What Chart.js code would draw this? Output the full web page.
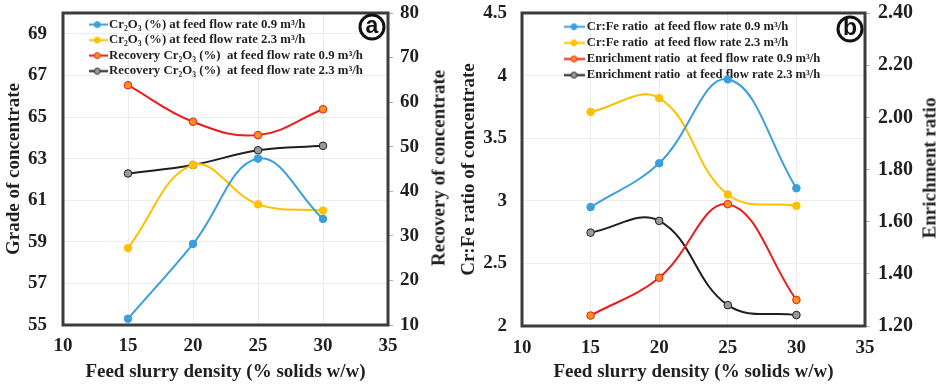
<!DOCTYPE html>
<html>
<head>
<meta charset="utf-8">
<script src="https://cdn.jsdelivr.net/npm/chart.js@4.4.1/dist/chart.umd.min.js"></script>
<style>
html,body{margin:0;padding:0;background:#fff;}
#wrap{position:relative;width:944px;height:386px;overflow:hidden;background:#fff;}
canvas{position:absolute;top:0;}
#c1{left:0;}
#c2{left:455px;}
.rt{position:absolute;font:bold 19px "Liberation Serif","Times New Roman",serif;color:#1f1f1f;white-space:nowrap;transform:translate(-50%,-50%) rotate(-90deg);line-height:1;}
.tag{position:absolute;box-sizing:border-box;width:27px;height:27px;border:3px solid #111;border-radius:50%;font:bold 23px "Liberation Sans",Arial,sans-serif;color:#111;display:flex;align-items:center;justify-content:center;line-height:1;transform:translate(-50%,-50%);}
.tag span{position:relative;top:-2px;}
</style>
</head>
<body>
<div id="wrap">
<canvas id="c1" width="455" height="386"></canvas>
<canvas id="c2" width="489" height="386"></canvas>
<div class="rt" style="left:438px;top:168px;">Recovery of concentrate</div>
<div class="rt" style="left:929px;top:168px;">Enrichment ratio</div>
<div class="tag" style="left:372px;top:27px;"><span>a</span></div>
<div class="tag" style="left:850px;top:29px;"><span>b</span></div>
</div>
<script>
// ---------- data ----------
const densities = [15, 20, 25, 30];

const cr2o3Flow09 = [55.3, 58.9, 63.0, 60.1];
const cr2o3Flow23 = [58.7, 62.7, 60.8, 60.5];
const recoveryFlow09 = [63.8, 55.6, 52.6, 58.4];
const recoveryFlow23 = [44.0, 45.9, 49.2, 50.2];

const crFeFlow09 = [2.95, 3.30, 3.97, 3.10];
const crFeFlow23 = [3.71, 3.82, 3.05, 2.96];
const enrichFlow09 = [1.24, 1.385, 1.667, 1.30];
const enrichFlow23 = [1.558, 1.603, 1.28, 1.242];

const xTicks = [10, 15, 20, 25, 30, 35];
const gradeTicks = [55, 57, 59, 61, 63, 65, 67, 69];
const recoveryTicks = [10, 20, 30, 40, 50, 60, 70, 80];
const crFeTicks = [2, 2.5, 3, 3.5, 4, 4.5];
const enrichTicks = [1.2, 1.4, 1.6, 1.8, 2.0, 2.2, 2.4];

const labelsA = [
  "Cr\u2082O\u2083 (%) at feed flow rate 0.9 m\u00b3/h",
  "Cr\u2082O\u2083 (%) at feed flow rate 2.3 m\u00b3/h",
  "Recovery Cr\u2082O\u2083 (%)  at feed flow rate 0.9 m\u00b3/h",
  "Recovery Cr\u2082O\u2083 (%)  at feed flow rate 2.3 m\u00b3/h"
];
const labelsB = [
  "Cr:Fe ratio  at feed flow rate 0.9 m\u00b3/h",
  "Cr:Fe ratio  at feed flow rate 2.3 m\u00b3/h",
  "Enrichment ratio  at feed flow rate 0.9 m\u00b3/h",
  "Enrichment ratio  at feed flow rate 2.3 m\u00b3/h"
];

// ---------- styles ----------
const BLUE = '#3b9fdb', YELLOW = '#ffc000', RED = '#ec1c1c', BLACK = '#1e1e1e';
const ORANGE = '#f7931e', GREY = '#9a9a9a';
const TXT = '#1f1f1f';
const SERIF = '"Liberation Serif","Times New Roman",serif';
const GRID = '#ececec';

const styles = [
  {line: BLUE, fill: BLUE, border: BLUE},
  {line: YELLOW, fill: YELLOW, border: YELLOW},
  {line: RED, fill: ORANGE, border: RED},
  {line: BLACK, fill: GREY, border: BLACK}
];

function icon(s) {
  const c = document.createElement('canvas');
  c.width = 21; c.height = 9;
  const g = c.getContext('2d');
  g.strokeStyle = s.line; g.lineWidth = 2;
  g.beginPath(); g.moveTo(0, 4.5); g.lineTo(21, 4.5); g.stroke();
  g.beginPath(); g.arc(10.5, 4.5, 3, 0, Math.PI * 2);
  g.fillStyle = s.fill; g.fill();
  g.lineWidth = 1; g.strokeStyle = s.border; g.stroke();
  return c;
}
const icons = styles.map(icon);

function pts(vals) { return densities.map((d, i) => ({x: d, y: vals[i]})); }

function ds(label, vals, s, axis) {
  return {
    label, data: pts(vals), yAxisID: axis,
    borderColor: s.line, backgroundColor: s.fill,
    pointBackgroundColor: s.fill, pointBorderColor: s.border,
    pointBorderWidth: 1, pointRadius: 3.8, borderWidth: 2,
    tension: 0.4, fill: false
  };
}

const frame = {
  id: 'frame',
  afterDatasetsDraw(chart) {
    const {ctx, chartArea: a} = chart;
    ctx.save();
    ctx.strokeStyle = '#3c3c3c'; ctx.lineWidth = 3;
    ctx.strokeRect(a.left, a.top, a.right - a.left, a.bottom - a.top);
    ctx.restore();
  }
};

const legendPlace = {
  id: 'legendPlace',
  afterLayout(chart, args, opts) {
    const lg = chart.legend;
    const a = chart.chartArea;
    lg.left = opts.x; lg.top = opts.y;
    lg.right = a.right; lg.bottom = a.bottom;
  }
};

function tickSetter(arr) { return s => { s.ticks = arr.map(v => ({value: v})); }; }
function fixWidth(w) { return s => { s.width = w; s.paddingTop = 0; s.paddingBottom = 0; }; }

function makeChart(id, cfg) {
  const font = (size) => ({family: SERIF, weight: 'bold', size});
  return new Chart(document.getElementById(id), {
    type: 'line',
    data: {datasets: cfg.datasets},
    plugins: [frame, legendPlace],
    options: {
      responsive: false, animation: false, devicePixelRatio: 1,
      layout: {padding: {top: cfg.top, left: 0, right: 0, bottom: 0}},
      plugins: {
        tooltip: {enabled: false},
        legendPlace: {x: cfg.legendX, y: cfg.legendY},
        legend: {
          position: 'chartArea', align: 'start', fullSize: false,
          labels: {
            usePointStyle: true, pointStyleWidth: cfg.boxW,
            padding: cfg.legendPad, color: TXT, font: font(cfg.legendFont),
            generateLabels(chart) {
              const items = Chart.defaults.plugins.legend.labels.generateLabels(chart);
              items.forEach((it, i) => { it.pointStyle = icons[i]; });
              return items;
            }
          }
        }
      },
      scales: {
        x: {
          type: 'linear', min: 10, max: 35,
          afterBuildTicks: tickSetter(xTicks),
          afterFit: s => { s.height = cfg.xH; },
          grid: {color: GRID, drawTicks: false},
          border: {display: false},
          ticks: {font: font(19), color: TXT, padding: cfg.xPad},
          title: {display: true, text: 'Feed slurry density (% solids w/w)', font: font(19), color: TXT, padding: {top: 0, bottom: 2.5}}
        },
        y: {
          position: 'left', min: cfg.yMin, max: cfg.yMax,
          afterBuildTicks: tickSetter(cfg.yTicks),
          afterFit: fixWidth(cfg.yW),
          grid: {color: GRID, drawTicks: false},
          border: {display: false},
          ticks: {font: font(19), color: TXT, padding: cfg.yPad, callback: cfg.yFmt},
          title: {display: true, text: cfg.yTitle, font: font(19), color: TXT, padding: {top: 3, bottom: 0}}
        },
        y1: {
          position: 'right', min: cfg.y1Min, max: cfg.y1Max,
          afterBuildTicks: tickSetter(cfg.y1Ticks),
          afterFit: fixWidth(cfg.y1W),
          grid: {drawOnChartArea: false, drawTicks: true, tickLength: 5, color: '#b0b0b0'},
          border: {display: false},
          ticks: {font: font(cfg.y1Font), color: TXT, padding: cfg.y1Pad, callback: cfg.y1Fmt}
        }
      }
    }
  });
}

makeChart('c1', {
  datasets: [
    ds(labelsA[0], cr2o3Flow09, styles[0], 'y'),
    ds(labelsA[1], cr2o3Flow23, styles[1], 'y'),
    ds(labelsA[2], recoveryFlow09, styles[2], 'y1'),
    ds(labelsA[3], recoveryFlow23, styles[3], 'y1')
  ],
  top: 13,
  legendX: 89, legendY: 15.5, legendPad: 2.7, boxW: 11, legendFont: 12.8,
  xH: 61, xPad: 10,
  yMin: 55, yMax: 70, yTicks: gradeTicks, yW: 63, yPad: 16, yFmt: v => v,
  yTitle: 'Grade of concentrate',
  y1Min: 10, y1Max: 80, y1Ticks: recoveryTicks, y1W: 67, y1Pad: 7, y1Font: 19, y1Fmt: v => v
});

makeChart('c2', {
  datasets: [
    ds(labelsB[0], crFeFlow09, styles[0], 'y'),
    ds(labelsB[1], crFeFlow23, styles[1], 'y'),
    ds(labelsB[2], enrichFlow09, styles[2], 'y1'),
    ds(labelsB[3], enrichFlow23, styles[3], 'y1')
  ],
  top: 13,
  legendX: 109, legendY: 17, legendPad: 3.5, boxW: 13, legendFont: 12.6,
  xH: 60, xPad: 11,
  yMin: 2, yMax: 4.5, yTicks: crFeTicks, yW: 67, yPad: 15, yFmt: v => String(v),
  yTitle: 'Cr:Fe ratio of concentrate',
  y1Min: 1.2, y1Max: 2.4, y1Ticks: enrichTicks, y1W: 79, y1Pad: 8, y1Font: 20, y1Fmt: v => Number(v).toFixed(2)
});
</script>
</body>
</html>
